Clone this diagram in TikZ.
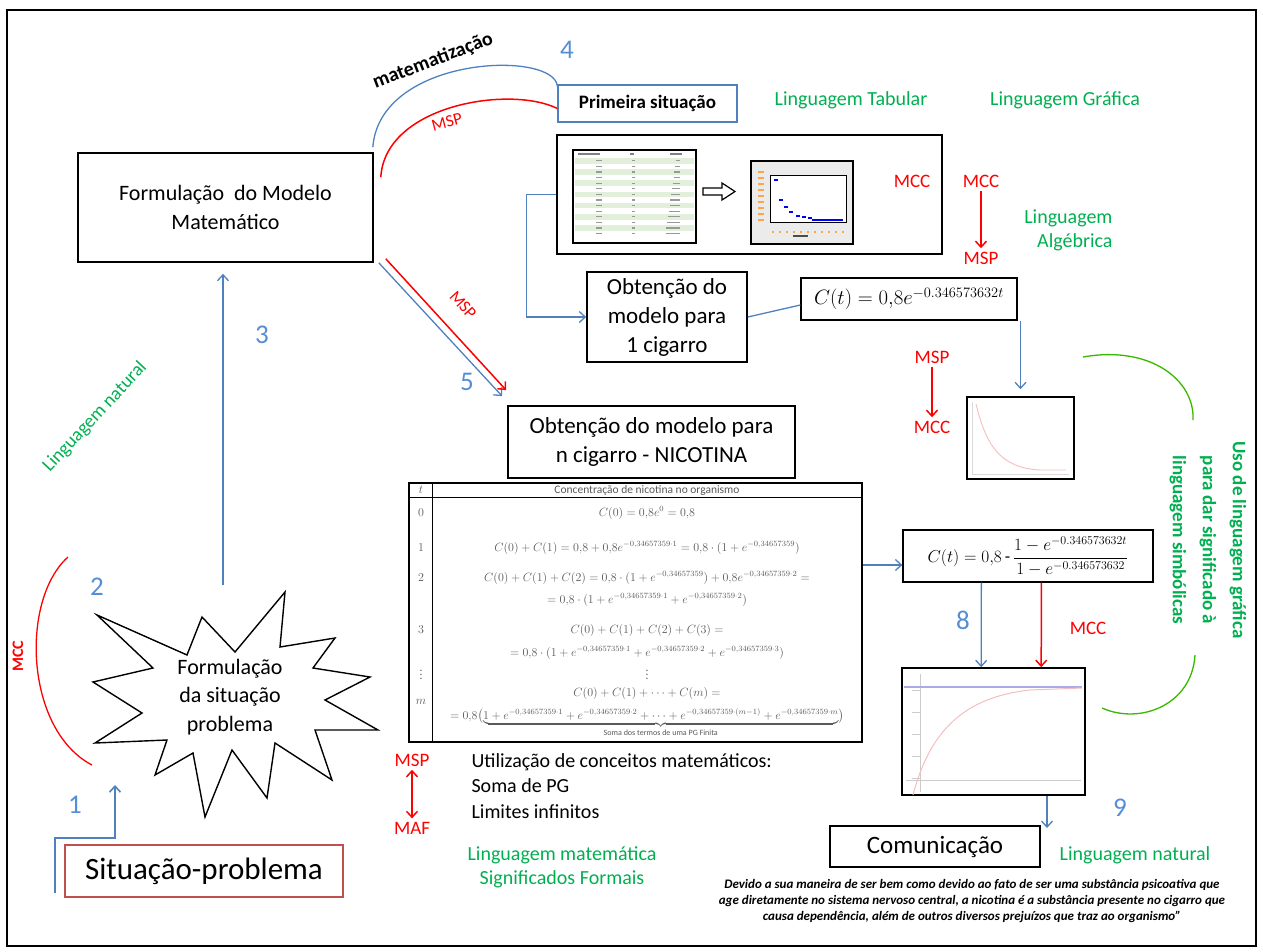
\documentclass[tikz,border=0pt]{standalone}
\usepackage{amsmath}
\usepackage{fontspec}
\setmainfont{Carlito}
\usetikzlibrary{arrows.meta,positioning,calc}
\newcommand{\fs}[2]{\fontsize{#1}{#2}\selectfont}
\newcommand{\ex}[1]{e^{-0{,}34657359#1}}
\definecolor{azul}{RGB}{79,129,189}
\definecolor{azulnum}{RGB}{85,142,213}
\definecolor{vermelho}{RGB}{255,0,0}
\definecolor{verde}{RGB}{0,176,80}
\definecolor{vinho}{RGB}{192,80,77}
\definecolor{verdeclaro}{RGB}{226,239,218}
\definecolor{rosa}{RGB}{244,190,190}
\definecolor{lilas}{RGB}{170,170,230}
\tikzset{
  caixa/.style={draw=black, line width=1.6pt, inner sep=0pt, align=center},
  numero/.style={text=azulnum, font=\fs{27}{30}},
  sigla/.style={text=vermelho, font=\fs{19}{22}},
  lingua/.style={text=verde, font=\fs{20}{24}},
  tabtxt/.style={text=black!65, font=\fs{11.5}{13}},
  setaazul/.style={draw=azul, line width=1.3pt, ->},
  setaverm/.style={draw=vermelho, line width=1.5pt, ->},
}
\begin{document}
\begin{tikzpicture}[x=1pt, y=-1pt, >={Straight Barb[length=6pt,width=11pt]}]
\useasboundingbox (0,0) rectangle (1263,951);
\draw[line width=1.5pt] (7,10) rectangle (1256,946);

% caixas principais
\node[caixa, minimum width=295pt, minimum height=109pt, font=\fs{22}{29}] (modelo) at (225.5,207.5) {Formulação\ \ do Modelo\\Matemático};
\node[draw=azul, line width=1.3pt, minimum width=179pt, minimum height=37pt, inner sep=0pt, font=\bfseries\fs{19}{22}] (primeira) at (647.5,103.5) {Primeira situação};
\node[caixa, minimum width=385pt, minimum height=119pt] (painel) at (749.5,194.5) {};
\node[caixa, minimum width=160pt, minimum height=90pt, font=\fs{23}{29}] (umcig) at (667,317) {Obtenção do\\modelo para\\1 cigarro};
\node[caixa, line width=1.3pt, minimum width=216pt, minimum height=42pt, font=\fs{19.5}{22}] (formula1) at (909,299) {$C(t)=0{,}8e^{-0.346573632t}$};
\node[caixa, minimum width=287pt, minimum height=72pt, font=\fs{23}{29}] (ncig) at (651.5,442) {Obtenção do modelo para\\n cigarro - NICOTINA};
\node[caixa, minimum width=453pt, minimum height=259pt] (tabela) at (635.5,612.5) {};
\node[caixa, line width=1.3pt, minimum width=250pt, minimum height=52pt, font=\fs{17.5}{20}] (formula2) at (1028,556) {$C(t)=0{,}8\,\mbox{-}\,\dfrac{1-e^{-0.346573632t}}{1-e^{-0.346573632}}$};
\node[caixa, minimum width=107pt, minimum height=82pt] (graf1) at (1020.5,438) {};
\node[caixa, minimum width=183pt, minimum height=127pt] (graf2) at (993.5,731.5) {};
\node[caixa, minimum width=210pt, minimum height=41pt, font=\fs{25}{28}] (comunica) at (935,846.5) {Comunicação};
\node[draw=vinho, line width=1.3pt, minimum width=278pt, minimum height=52pt, inner sep=0pt, font=\fs{31}{34}] (situacao) at (204,871) {Situação-problema};

% estrela
\draw[line width=1.4pt] (97,615) -- (187,655) -- (202,617) -- (235,652) -- (285,592) -- (280,647) -- (335,638) -- (313,668) -- (370,677) -- (325,700) -- (378,730) -- (315,730) -- (332,780) -- (275,743) -- (267,798) -- (232,750) -- (205,817) -- (193,753) -- (155,775) -- (167,740) -- (95,743) -- (142,713) -- (93,682) -- (153,668) -- cycle;
\node[font=\fs{22}{28.5}, align=center] (estrela) at (230,697) {Formulação\\da situação\\problema};

% tabela do painel
\draw[line width=1.2pt, fill=white] (573,150) rectangle (696,243);
\foreach \i in {0,2,...,12}
  \fill[verdeclaro] (575,{158+\i*5.6}) rectangle (694,{163.6+\i*5.6});
\foreach \i in {0,...,13} {
  \draw[black!40, line width=1.2pt] (596,{160.8+\i*5.6}) -- ++(6,0);
  \draw[black!40, line width=1.2pt] (632,{160.8+\i*5.6}) -- ++(3,0);
  \draw[black!40, line width=1.2pt] ({676-\i*0.8},{160.8+\i*5.6}) -- (680,{160.8+\i*5.6});
}
\draw[black!50, line width=1.2pt] (578,154) -- (600,154) (630,154) -- (634,154) (670,154) -- (682,154);
\draw[line width=1.2pt, fill=white] (703,188) -- (722,188) -- (722,183) -- (735,191.5) -- (722,200) -- (722,195) -- (703,195) -- cycle;
% grafico do painel
\draw[line width=1.2pt, fill=black!8] (751,161) rectangle (853,244);
\draw[line width=1pt, fill=white] (770,175) rectangle (846,222);
\foreach \yy in {172,178,...,220}
  \draw[orange!70, line width=1.5pt] (758,\yy) -- (764,\yy);
\foreach \xx in {772,779,...,846}
  \draw[orange!70, line width=1.5pt] (\xx,232) -- ++(2,0);
\draw[black!70, line width=1.5pt] (793,236) -- (808,236);
\foreach \px/\py in {774/180, 779/200, 784/207, 789/212, 796/216, 802/217, 808/218}
  \draw[blue, line width=2pt] (\px,\py) -- ++(4,0);
\draw[blue, line width=2pt] (812,220) -- (843,220);

% grafico 1 cigarro
\draw[black!15] (972,402) -- (972,474) -- (1069,474);
\draw[rosa, line width=0.9pt] (976,404) .. controls (986,445) and (1000,468) .. (1040,470) -- (1066,470);
% grafico n cigarros
\draw[black!20] (920,674) -- (920,792) (906,780) -- (1081,780);
\foreach \yy in {690,712,...,780}
  \draw[black!20] (912,\yy) -- (920,\yy);
\draw[lilas, line width=1.2pt] (904,687) -- (1082,687);
\draw[rosa, line width=1pt] (913,795) .. controls (930,730) and (965,697) .. (1030,690) -- (1082,688);

% conteudo da tabela
\draw[line width=1pt] (409,497) -- (862,497);
\draw[line width=1pt] (432,483) -- (432,742);
\node[tabtxt] (t0) at (421,490) {$t$};
\node[tabtxt] (tit) at (647,490) {Concentração de nicotina no organismo};
\foreach \r/\ry in {0/513, 1/548, 2/578, 3/630, \vdots/672, m/702}
  \node[tabtxt] at (421,\ry) {$\r$};
\node[tabtxt] (f0) at (647,513) {$C(0)=0{,}8e^{0}=0{,}8$};
\node[tabtxt] (f1) at (647,548) {$C(0)+C(1)=0{,}8+0{,}8\ex{\cdot 1}=0{,}8\cdot(1+\ex{})$};
\node[tabtxt] (f2a) at (647,578) {$C(0)+C(1)+C(2)=0{,}8\cdot(1+\ex{})+0{,}8\ex{\cdot 2}=$};
\node[tabtxt] (f2b) at (647,600) {$=0{,}8\cdot(1+\ex{\cdot 1}+\ex{\cdot 2})$};
\node[tabtxt] (f3a) at (647,630) {$C(0)+C(1)+C(2)+C(3)=$};
\node[tabtxt] (f3b) at (647,653) {$=0{,}8\cdot(1+\ex{\cdot 1}+\ex{\cdot 2}+\ex{\cdot 3})$};
\node[tabtxt] (fv) at (647,672) {$\vdots$};
\node[tabtxt] (fma) at (647,693) {$C(0)+C(1)+\cdots+C(m)=$};
\node[tabtxt, anchor=north] (fmb) at (647,705) {$=0{,}8\bigl(\underbrace{1+\ex{\cdot 1}+\ex{\cdot 2}+\cdots+\ex{\cdot(m-1)}+\ex{\cdot m}}_{\text{Soma dos termos de uma PG Finita}}\bigr)$};

% textos
\node[font=\bfseries\fs{20}{24}, rotate=21] (matem) at (433,61) {matematização};
\node[sigla, font=\fs{17}{20}, rotate=15] (msp1) at (447,122) {MSP};
\node[lingua] (tabular) at (851,100) {Linguagem Tabular};
\node[lingua] (grafica) at (1065,100) {Linguagem Gráfica};
\node[lingua, align=right, anchor=east] (algebrica) at (1116,230) {Linguagem\\Algébrica};
\node[sigla] (mcc1) at (912,181) {MCC};
\node[sigla] (mcc2) at (981,181) {MCC};
\node[sigla] (msp2) at (981,258) {MSP};
\node[sigla] (msp3) at (932,357) {MSP};
\node[sigla] (mcc3) at (932,427) {MCC};
\node[sigla, font=\fs{17}{20}, rotate=-48] (msp4) at (463,305) {MSP};
\node[sigla] (mcc4) at (1088,628) {MCC};
\node[sigla] (msp5) at (412,760) {MSP};
\node[sigla] (maf) at (412,828) {MAF};
\node[sigla, font=\bfseries\fs{16}{19}, rotate=90] (mcc5) at (18,656) {MCC};
\node[lingua, font=\fs{19}{22}, rotate=47] (natural1) at (95,417) {Linguagem natural};
\node[lingua] (natural2) at (1135,855) {Linguagem natural};
\node[lingua, align=center] (formais) at (562,867) {Linguagem matemática\\Significados Formais};
\node[lingua, font=\bfseries\fs{19}{30}, align=center, rotate=-90] (uso) at (1208,540) {Uso de linguagem gráfica\\para dar significado à\\linguagem simbólicas};
\node[anchor=west, align=left, font=\fs{20}{25.5}] (conceitos) at (468,786) {Utilização de conceitos matemáticos:\\Soma de PG\\Limites infinitos};
\node[align=center, font=\bfseries\itshape\fs{13}{16}] (citacao) at (972,901) {Devido a sua maneira de ser bem como devido ao fato de ser uma substância psicoativa que\\age diretamente no sistema nervoso central, a nicotina é a substância presente no cigarro que\\causa dependência, além de outros diversos prejuízos que traz ao organismo”};

% numeros
\node[numero] (n1) at (75,805) {1};
\node[numero] (n2) at (97,587) {2};
\node[numero] (n3) at (262,335) {3};
\node[numero] (n4) at (567,50) {4};
\node[numero] (n5) at (467,382) {5};
\node[numero] (n8) at (963,620) {8};
\node[numero] (n9) at (1120,808) {9};

% arcos
\draw[azul, line width=1.3pt] ([xshift=-1pt,yshift=5pt]modelo.north east) .. controls (380,55) and (555,50) .. ([yshift=-2pt]primeira.north west);
\draw[vermelho, line width=1.5pt] ([xshift=7pt,yshift=-25pt]modelo.north east) .. controls (385,105) and (510,85) .. ([yshift=-5pt]primeira.west);
\draw[vermelho, line width=1.3pt] (68,557) .. controls (20,600) and (25,730) .. (92,765);
\draw[green!60!black!70!lime, line width=1.3pt] (1083,357) .. controls (1150,345) and (1195,380) .. (1193,420);
\draw[green!60!black!70!lime, line width=1.3pt] (1195,655) .. controls (1192,705) and (1140,725) .. (1102,708);

% conectores
\coordinate (c1) at (55,893);
\coordinate (c3) at (223,585);
\coordinate (c9) at (1047,828);
\draw[setaazul, line width=1.6pt] (c1) |- (115,838) -- (115,785);
\draw[setaazul, shorten >=11pt] (c3) -- (modelo.south -| c3);
\draw[setaazul] (painel.west) -- ++(-30,0) |- (umcig.west);
\draw[azul, line width=1.3pt] (umcig.east) -- ([yshift=-6pt]formula1.west);
\draw[setaazul, shorten >=7pt] (formula1.south -| graf1.north) -- (graf1.north);
\draw[setaazul] ([xshift=5pt]modelo.south east) -- ([xshift=-5pt,yshift=9pt]ncig.north west);
\draw[setaverm] ([xshift=12pt,yshift=4pt]modelo.south east) -- ([xshift=-1pt,yshift=15pt]ncig.north west);
\draw[setaazul] ([yshift=-9pt]formula2.west -| tabela.east) -- ([yshift=-9pt]formula2.west);
\draw[setaazul] ([xshift=79pt]formula2.south west) -- ([xshift=80pt]graf2.north west);
\draw[setaverm] ([xshift=139pt]formula2.south west) -- ([xshift=140pt]graf2.north west);
\draw[setaazul] (graf2.south -| c9) -- (c9);
\draw[setaverm] (mcc2) -- (msp2);
\draw[setaverm] (msp3) -- (mcc3);
\draw[setaverm, <->] (msp5) -- (maf);
\end{tikzpicture}
\end{document}
